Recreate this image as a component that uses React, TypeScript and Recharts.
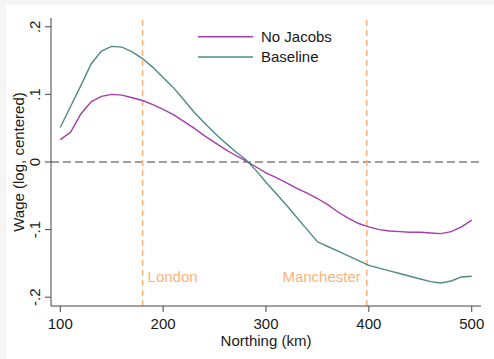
import { LineChart, Line, XAxis, YAxis, ReferenceLine } from 'recharts';

const northing = [
  100, 110, 120, 130, 140, 150, 160, 170, 180, 190, 200, 210, 220, 230, 240, 250, 260, 270, 280, 290, 300,
  310, 320, 330, 340, 350, 360, 370, 380, 390, 400, 410, 420, 430, 440, 450, 460, 470, 480, 490, 500,
];

const noJacobs = [
  0.033, 0.044, 0.071, 0.089, 0.097, 0.1, 0.099, 0.095, 0.091, 0.085, 0.078, 0.07, 0.06, 0.05, 0.039, 0.029,
  0.019, 0.01, 0.002, -0.007, -0.016, -0.023, -0.031, -0.039, -0.046, -0.054, -0.063, -0.074, -0.083, -0.091,
  -0.096, -0.1, -0.102, -0.103, -0.104, -0.104, -0.105, -0.106, -0.103, -0.096, -0.086,
];

const baseline = [
  0.051, 0.082, 0.113, 0.145, 0.164, 0.171, 0.17, 0.163, 0.153, 0.14, 0.125, 0.11, 0.092, 0.074, 0.058, 0.043,
  0.029, 0.016, 0.004, -0.012, -0.03, -0.047, -0.064, -0.082, -0.1, -0.118, -0.125, -0.132, -0.139, -0.146,
  -0.153, -0.157, -0.161, -0.165, -0.169, -0.173, -0.177, -0.179, -0.176, -0.17, -0.169,
];

const xTicks = [100, 200, 300, 400, 500];
const yTicks = [-0.2, -0.1, 0, 0.1, 0.2];
const yTickLabels = ['-.2', '-.1', '0', '.1', '.2'];

const cities = [
  { name: 'London', northing: 180, side: 'right' },
  { name: 'Manchester', northing: 398, side: 'left' },
];

const series = [
  { key: 'noJacobs', name: 'No Jacobs', color: '#A53DA9' },
  { key: 'baseline', name: 'Baseline', color: '#4E8C83' },
];

const data = northing.map((n, i) => ({ northing: n, noJacobs: noJacobs[i], baseline: baseline[i] }));

const FONT = '"Liberation Sans", Arial, sans-serif';
const FS = 15;
const TEXT = '#1a1a1a';
const AXIS = '#444';
const ORANGE = '#FDB27A';

function YTick(props: any) {
  const { y, payload } = props;
  const idx = yTicks.indexOf(payload.value);
  const label = idx >= 0 ? yTickLabels[idx] : String(payload.value);
  const bx = 34;
  return (
    <text x={bx} y={y} transform={`rotate(-90, ${bx}, ${y})`} textAnchor="middle" fill={TEXT} fontSize={FS} fontFamily={FONT}>
      {label}
    </text>
  );
}

function YTitle(props: any) {
  const vb = props.viewBox || { x: 0, y: 0, width: 0, height: 0 };
  const bx = 18;
  const cy = vb.y + vb.height / 2;
  return (
    <text x={bx} y={cy} transform={`rotate(-90, ${bx}, ${cy})`} textAnchor="middle" fill={TEXT} fontSize={FS} fontFamily={FONT}>
      Wage (log, centered)
    </text>
  );
}

function CityLabel(props: any) {
  const { viewBox, text, side } = props;
  if (!viewBox) return null;
  const right = side === 'right';
  return (
    <text
      x={right ? viewBox.x + 5 : viewBox.x - 6}
      y={viewBox.y + viewBox.height - 24}
      textAnchor={right ? 'start' : 'end'}
      fill={ORANGE}
      fontSize={FS}
      fontFamily={FONT}
    >
      {text}
    </text>
  );
}

export default function App() {
  return (
    <div style={{ position: 'fixed', left: 0, top: 0, width: 494, height: 359, background: '#f5f5f5', fontFamily: FONT }}>
      <div style={{ position: 'absolute', left: 6, top: 5, width: 488, height: 354, background: '#ffffff' }}>
        <LineChart width={488} height={354} data={data} margin={{ top: 13, right: 13, left: 0, bottom: 0 }}>
          <XAxis
            dataKey="northing"
            type="number"
            domain={[91, 509]}
            ticks={xTicks}
            height={53}
            tickSize={6}
            tickMargin={6}
            stroke={AXIS}
            tick={{ fill: TEXT, fontSize: FS, fontFamily: FONT }}
            label={{ value: 'Northing (km)', position: 'insideBottom', offset: 13, fill: TEXT, fontSize: FS, fontFamily: FONT }}
          />
          <YAxis
            type="number"
            domain={[-0.213, 0.213]}
            ticks={yTicks}
            width={45}
            tickSize={6}
            stroke={AXIS}
            tick={<YTick />}
            label={<YTitle />}
          />
          <ReferenceLine y={0} stroke="#808080" strokeWidth={1.5} strokeDasharray="8 4" />
          {cities.map((c) => (
            <ReferenceLine
              key={c.name}
              x={c.northing}
              stroke={ORANGE}
              strokeWidth={1.5}
              strokeDasharray="6 4"
              label={<CityLabel text={c.name} side={c.side} />}
            />
          ))}
          {series.map((s) => (
            <Line
              key={s.key}
              type="linear"
              dataKey={s.key}
              name={s.name}
              stroke={s.color}
              strokeWidth={1.4}
              dot={false}
              isAnimationActive={false}
            />
          ))}
        </LineChart>
        <svg width={488} height={354} style={{ position: 'absolute', left: 0, top: 0, pointerEvents: 'none' }}>
          {series.map((s, i) => (
            <g key={s.key}>
              <line x1={192} x2={247} y1={31.7 + i * 20.3} y2={31.7 + i * 20.3} stroke={s.color} strokeWidth={1.4} />
              <text x={255} y={37 + i * 20.3} fill={TEXT} fontSize={FS} fontFamily={FONT}>
                {s.name}
              </text>
            </g>
          ))}
        </svg>
      </div>
    </div>
  );
}
